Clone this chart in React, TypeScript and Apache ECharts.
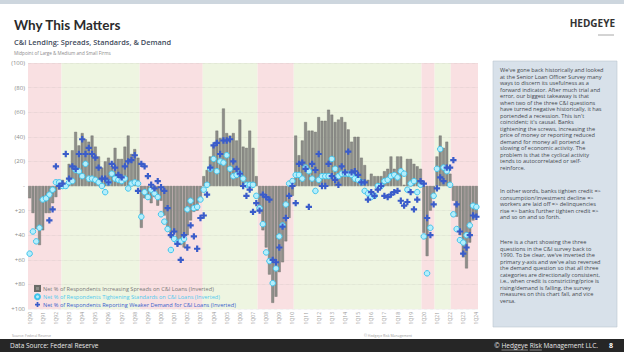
import React, { useEffect, useRef } from "react";
import * as echarts from "echarts";

// ---------- data ----------
const YEARS_START = 1990;
const YEARS_END = 2023;
const categories: string[] = [];
for (let y = YEARS_START; y <= YEARS_END; y++) {
  for (let q = 1; q <= 4; q++) categories.push(`${q}Q${String(y % 100).padStart(2, "0")}`);
}
categories.push("1Q24");

// Net % increasing spreads (inverted axis: positive plotted downward)
const spreads: number[] = [
  10, 22, 35, 48, 36, 22, 22, 14, 9, 3,
  -5, -1, -18, -29, -44, -33, -43, -38, -36, -41, -32, -24, -15, -20, -23, -16, -31, -22, -22, -32, -41, -26, -30, -23,
  34, 10, 11, 14, 9, 16, 12, 24, 36, 42, 38, 44, 48, 50, 40, 28, 21, 20, 10,
  -8, -13, -24, -33, -45, -39, -63, -43, -41, -43, -37, -54, -32, -31, -45, -31, -8,
  18, 36, 50, 72, 95, 90, 70, 62, 45, 26, 8,
  -41, -25, -37, -52, -45, -45, -44, -56, -53, -53, -62, -58, -52, -54, -56, -52, -46, -36, -40, -40, -23, -17, -5,
  -10, -8, -8, -8, -12, -14, -24, -14, -24, -24, -1, -22, -22, -18, -16, -14,
  38, 57, 20, 10,
  -24, -41, -31, -36, -10,
  12, 25, 40, 58, 67, 46, 28, 25,
];

// Net % tightening standards
const standards: number[] = [
  55, 37, 45, 34, 11, 10, 7, 3, -3, -3,
  0, 0, -3, -4, -13, -12, -8, -18, -6, -6, -5, -3, 0, 5, -3, -10, -6, -5, -4, -6, 2, -2, -3, -2,
  25, 5, 9, 3, 6, 9, 23, 29, 35, 52, 43, 46, 45, 43, 19, 12, 18, 17, 11,
  3, -1, -14, -22, -12, -20, -19, -25, -14, -8, -9, -10, -6, -1, -1, -1, 8,
  18, 31, 54, 61, 79, 67, 41, 32, 15, -2, -4,
  -9, -9, -6, -15, -12, -6, 4, -5, -8,
  -8, -8, -22, -14, -8, -10, -10, -10, -9, -6, -5,
  -3, 4, 6, 9, 8, 0, 0, -4, -5, -8, -9, -7, -12, -10, 3, -2, -4, 5, -1,
  41, 71, 34, 8,
  -14, -30, -15, -12, -1,
  23, 35, 44, 46, 40, 32, 16, 17,
];

// Net % reporting weaker demand
const demand: (number | null)[] = [
  null, null, null, null, null, null,
  28, 19, -16, 0,
  -2, -26, -6, -16, -14, -26, -38, -26, -31, -26, -23, -15, -6, -6, -3, -18, -15, -9, -7, -16, -20, -21, -25, 4,
  -18, -16, -8, -1, 2, -4, 1, 4, 18, 40, 37, 47, 60, 40, 50, 32, 41, 51, 26, 24, 7,
  -15, -33, -35, -26, -37, -37, -38, -20, -14, -10, 0, 8, 3, 21, 14,
  20, 7, 9, 11, 60, 62, 50, 33, 26, 8, 0,
  14, -18, -19, -14, 17, -18, -13, -26, 0,
  0, -18, -8, -5, -1, -16, -11, -28, -11, -12, -9, -3, -3, 11, 5, 8, 3, 0, 8, 9, 7, 5, 4, 12, 16, 13, 5, 19, 11, -4, -2,
  26, 40, 15, 2, -7, -4, -15, -15, -21, 15, 37, 55, 50, 40, 24, 25,
];

// shaded regimes, in category-index units (0 = tightening/pink, 1 = easing/green)
const shadeStart = [-0.5, 9.7, 33.5, 52.7, 69.4, 80.4, 119.3, 123.3, 128.2];
const shadeEnd = [9.7, 33.5, 52.7, 69.4, 80.4, 119.3, 123.3, 128.2, 136.5];
const shadeKind = [0, 1, 0, 1, 0, 1, 0, 1, 0];

const seriesNames = [
  "Net % of Respondents Increasing Spreads on C&I Loans (Inverted)",
  "Net % of Respondents Tightening Standards on C&I Loans (Inverted)",
  "Net % of Respondents Reporting Weaker Demand for C&I Loans (Inverted)",
];

const para1 = [
  "We've gone back historically and looked",
  "at the Senior Loan Officer Survey many",
  "ways to discern its usefulness as a",
  "forward indicator. After much trial and",
  "error, our biggest takeaway is that",
  "when two of the three C&I questions",
  "have turned negative historically, it has",
  "portended a recession. This isn't",
  "coincident; it's causal. Banks",
  "tightening the screws, increasing the",
  "price of money or reporting reduced",
  "demand for money all portend a",
  "slowing of economic activity. The",
  "problem is that the cyclical activity",
  "tends to autocorrelated or self-",
  "reinforce.",
];
const para2 = [
  "In other words, banks tighten credit =>",
  "consumption/investment decline =>",
  "workers are laid off => delinquencies",
  "rise => banks further tighten credit =>",
  "and so on and so forth.",
];
const para3 = [
  "Here is a chart showing the three",
  "questions in the C&I survey back to",
  "1990. To be clear, we've inverted the",
  "primary y-axis and we've also reversed",
  "the demand question so that all three",
  "categories are directionally consistent,",
  "i.e., when credit is constricting/price is",
  "rising/demand is falling, the survey",
  "measures on this chart fall, and vice",
  "versa.",
];

const FONT = "Open Sans";
const CROSS = "path://M2.6,0 L5.4,0 L5.4,2.6 L8,2.6 L8,5.4 L5.4,5.4 L5.4,8 L2.6,8 L2.6,5.4 L0,5.4 L0,2.6 L2.6,2.6 Z";

function measure(text: string, size: number, weight = "normal"): number {
  const c = document.createElement("canvas").getContext("2d");
  if (!c) return text.length * size * 0.55;
  c.font = `${weight} ${size}px "${FONT}"`;
  return c.measureText(text).width;
}

export default function App() {
  const ref = useRef<HTMLDivElement>(null);
  useEffect(() => {
    if (!ref.current) return;
    const chart = echarts.init(ref.current, undefined, { renderer: "svg" });

    const footSize = 6.5;
    const footRight = 598;
    const fullFoot = "© Hedgeye Risk Management LLC.";
    const fw = measure(fullFoot, footSize);
    const fx0 = footRight - fw;
    const hx0 = fx0 + measure("© ", footSize);
    const hx1 = hx0 + measure("Hedgeye", footSize);
    const rx0 = fx0 + measure("© Hedgeye ", footSize);
    const rx1 = rx0 + measure("Risk", footSize);

    const panelText = (lines: string[], y: number) => ({
      type: "text",
      left: 500,
      top: y,
      style: {
        text: lines.join("\n"),
        fontSize: 5.6,
        lineHeight: 6.5,
        fill: "#44484e",
        fontFamily: FONT,
      },
    });

    const option: any = {
      animation: false,
      textStyle: { fontFamily: FONT },
      grid: { left: 28, width: 450, top: 63, height: 246 },
      xAxis: [
        {
          type: "category",
          data: categories,
          boundaryGap: true,
          axisLine: { show: false },
          axisTick: { show: false },
          axisLabel: { interval: 3, rotate: 90, fontSize: 5, color: "#9a9a9a", margin: 3 },
        },
        { type: "value", min: -0.5, max: 136.5, show: false },
      ],
      yAxis: {
        type: "value",
        inverse: true,
        min: -100,
        max: 100,
        interval: 20,
        axisLine: { show: false },
        axisTick: { show: false },
        splitLine: { show: true, lineStyle: { color: "rgba(150,150,150,0.35)", type: "dotted", width: 0.6 } },
        axisLabel: {
          fontSize: 6,
          color: "#8a8a8a",
          margin: 3,
          formatter: (v: number) => (v < 0 ? `(${-v})` : v === 0 ? "-" : `+${v}`),
        },
      },
      legend: {
        orient: "vertical",
        left: 34,
        top: 285,
        padding: 0,
        itemGap: 1.3,
        itemWidth: 5,
        itemHeight: 5,
        textStyle: { fontSize: 5.6, lineHeight: 6, padding: [0, 0, 0, -2] },
        data: [
          { name: seriesNames[0], icon: "rect", textStyle: { color: "#7b7b7b" } },
          { name: seriesNames[1], icon: "circle", textStyle: { color: "#4fcaee" } },
          { name: seriesNames[2], icon: CROSS, textStyle: { color: "#3a5fcd" } },
        ],
      },
      series: [
        {
          type: "custom",
          xAxisIndex: 1,
          yAxisIndex: 0,
          silent: true,
          z: -1,
          data: shadeStart.map((s, i) => [s, shadeEnd[i], shadeKind[i]]),
          renderItem: (params: any, api: any) => {
            const p0 = api.coord([api.value(0), 0]);
            const p1 = api.coord([api.value(1), 0]);
            const cs = params.coordSys;
            return {
              type: "rect",
              shape: { x: p0[0], y: cs.y, width: p1[0] - p0[0], height: cs.height },
              style: { fill: api.value(2) === 0 ? "#f9e0e2" : "#eef5e1" },
            };
          },
        },
        {
          name: seriesNames[0],
          type: "bar",
          data: spreads,
          barCategoryGap: "14%",
          itemStyle: { color: "#8d8e89", borderColor: "#6a6b67", borderWidth: 0.4 },
          z: 2,
        },
        {
          name: seriesNames[1],
          type: "scatter",
          data: standards,
          symbol: "circle",
          symbolSize: 5.5,
          itemStyle: { color: "#b4eefc", borderColor: "#40c4ec", borderWidth: 1, opacity: 1 },
          z: 3,
        },
        {
          name: seriesNames[2],
          type: "scatter",
          data: demand,
          symbol: CROSS,
          symbolSize: 6.3,
          itemStyle: { color: "#3a5cca", opacity: 1 },
          z: 4,
        },
      ],
      graphic: [
        { type: "rect", shape: { x: 0, y: 0, width: 624, height: 4 }, style: { fill: "#cdd6de" } },
        {
          type: "text", left: 14, top: 18,
          style: { text: "Why This Matters", fontSize: 13.5, fontWeight: "bold", fill: "#2b2b2b", fontFamily: "Lato" },
        },
        {
          type: "text", left: 14, top: 38,
          style: { text: "C&I Lending: Spreads, Standards, & Demand", fontSize: 7.4, fontWeight: 600, fill: "#3f4b5c", fontFamily: FONT },
        },
        {
          type: "text", left: 14, top: 50,
          style: { text: "Midpoint of Large & Medium and Small Firms", fontSize: 4.6, fill: "#8a8a8a", fontFamily: FONT },
        },
        {
          type: "text", right: 9, top: 18,
          style: { text: "HEDGEYE", fontSize: 10, fontWeight: "bold", fill: "#333", fontFamily: FONT },
        },
        { type: "line", shape: { x1: 598, y1: 35, x2: 614, y2: 35 }, style: { stroke: "#a8a8a8", lineWidth: 1 } },
        {
          type: "rect",
          shape: { x: 493, y: 61, width: 124, height: 266 },
          style: { fill: "#d8e1ea", stroke: "#bcc6d0", lineWidth: 0.6 },
        },
        panelText(para1, 67),
        panelText(para2, 188),
        panelText(para3, 239),
        {
          type: "text", left: 12, top: 333,
          style: { text: "Source: Federal Reserve", fontSize: 3.5, fill: "#9a9a9a", fontFamily: FONT },
        },
        {
          type: "text", left: 364, top: 333,
          style: { text: "© Hedgeye Risk Management", fontSize: 3.5, fill: "#9a9a9a", fontFamily: FONT },
        },
        { type: "rect", shape: { x: 0, y: 339, width: 624, height: 13 }, style: { fill: "#262626" } },
        {
          type: "text", left: 10, top: 342,
          style: { text: "Data Source: Federal Reserve", fontSize: footSize, fill: "#e6e6e6", fontFamily: FONT },
        },
        {
          type: "text", left: fx0, top: 342,
          style: { text: fullFoot, fontSize: footSize, fill: "#e6e6e6", fontFamily: FONT },
        },
        { type: "line", shape: { x1: hx0, y1: 350, x2: hx1, y2: 350 }, style: { stroke: "#e6e6e6", lineWidth: 0.5 } },
        { type: "line", shape: { x1: rx0, y1: 350, x2: rx1, y2: 350 }, style: { stroke: "#e6e6e6", lineWidth: 0.5 } },
        {
          type: "text", left: 609, top: 341.5,
          style: { text: "8", fontSize: 7, fontWeight: "bold", fill: "#ffffff", fontFamily: FONT },
        },
      ],
    };
    chart.setOption(option);
    return () => chart.dispose();
  }, []);
  return (
    <div
      ref={ref}
      style={{ position: "absolute", left: 0, top: 0, width: 624, height: 352, background: "#ffffff" }}
    />
  );
}
